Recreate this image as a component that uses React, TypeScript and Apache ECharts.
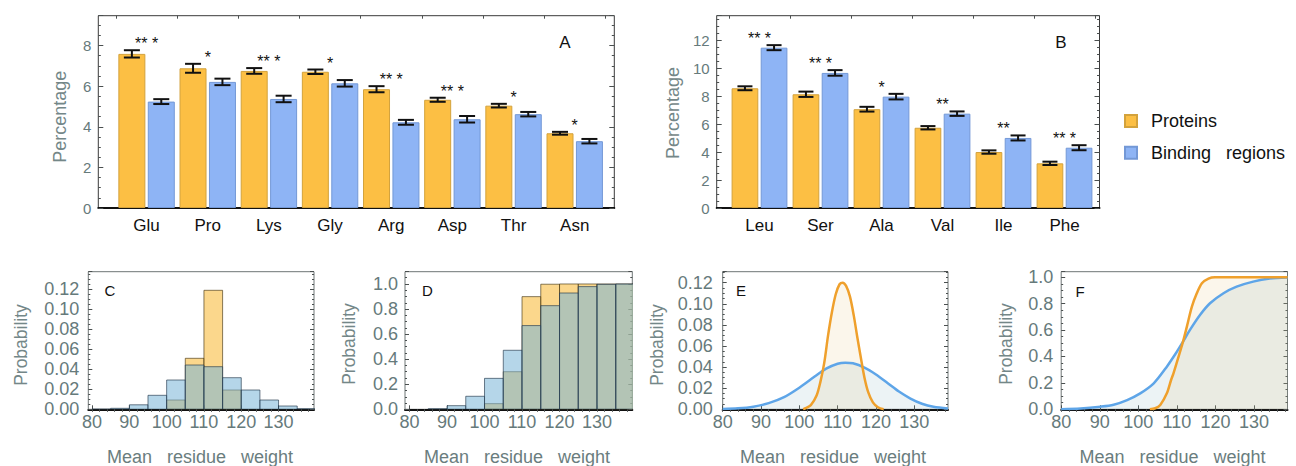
import React, { useEffect, useRef } from 'react';
import * as echarts from 'echarts';

// ---------- Panel A ----------
const aCategories = ['Glu', 'Pro', 'Lys', 'Gly', 'Arg', 'Asp', 'Thr', 'Asn'];
const aProteins = [7.59, 6.88, 6.75, 6.71, 5.85, 5.33, 5.04, 3.68];
const aProteinsErr = [0.18, 0.22, 0.14, 0.11, 0.15, 0.1, 0.09, 0.07];
const aBinding = [5.24, 6.21, 5.37, 6.14, 4.22, 4.37, 4.62, 3.29];
const aBindingErr = [0.12, 0.16, 0.16, 0.16, 0.12, 0.16, 0.11, 0.11];
const aStars = ['** *', '*', '** *', '*', '** *', '** *', '*', '*'];

// ---------- Panel B ----------
const bCategories = ['Leu', 'Ser', 'Ala', 'Val', 'Ile', 'Phe'];
const bProteins = [8.58, 8.15, 7.08, 5.75, 4.01, 3.2];
const bProteinsErr = [0.14, 0.19, 0.17, 0.12, 0.12, 0.12];
const bBinding = [11.49, 9.68, 7.98, 6.76, 5.02, 4.32];
const bBindingErr = [0.18, 0.2, 0.2, 0.16, 0.18, 0.18];
const bStars = ['** *', '** *', '*', '**', '**', '** *'];

// ---------- Panels C / D (histograms, bin edges) ----------
const binEdges = [80, 85, 90, 95, 100, 105, 110, 115, 120, 125, 130, 135, 140];
const cProteins = [0, 0, 0, 0, 0.0093, 0.051, 0.119, 0.0193, 0, 0, 0, 0];
const cBinding = [0.0002, 0.001, 0.0045, 0.014, 0.0293, 0.0443, 0.0426, 0.0316, 0.0193, 0.0093, 0.0033, 0.0006];
const dProteins = [0, 0, 0, 0, 0.045, 0.3, 0.899, 0.998, 1, 1, 1, 1];
const dBinding = [0, 0.005, 0.029, 0.104, 0.247, 0.471, 0.668, 0.827, 0.928, 0.979, 0.997, 1.0];

// ---------- Panel E (densities) ----------
const eProteinsX = [101, 101.5, 103, 104.5, 105.5, 106.5, 107.5, 108.5, 109.5, 110.5, 111.3, 112.2, 113.2, 114.2, 115.1, 116, 117, 118, 119.2, 120.5, 122];
const eProteinsY = [0, 0.0008, 0.004, 0.013, 0.026, 0.044, 0.07, 0.092, 0.109, 0.1185, 0.12, 0.117, 0.107, 0.089, 0.069, 0.05, 0.03, 0.016, 0.0065, 0.002, 0];
const eBindingX = [80, 84, 88, 92, 96, 100, 104, 107, 110, 112, 114, 117, 120, 123, 126, 129, 132, 135, 138.8];
const eBindingY = [0.0003, 0.0009, 0.0025, 0.0058, 0.0115, 0.0205, 0.031, 0.0385, 0.0432, 0.0442, 0.0436, 0.0395, 0.033, 0.025, 0.0168, 0.0102, 0.0053, 0.0024, 0.0008];

// ---------- Panel F (cumulative) ----------
const fProteinsX = [103, 104.4, 105.7, 107.4, 108.5, 109.1, 110.7, 111.6, 112.6, 113.9, 115.2, 116.5, 118.2, 119.9, 138.7];
const fProteinsY = [0, 0.008, 0.033, 0.121, 0.222, 0.27, 0.424, 0.512, 0.626, 0.777, 0.88, 0.955, 0.99, 1.0, 1.0];
const fBindingX = [80, 85, 90.2, 93.6, 97.1, 100.5, 104, 107.4, 110, 111.6, 113.4, 116, 118.6, 122.1, 125.5, 129.8, 134.1, 138.7];
const fBindingY = [0.001, 0.006, 0.02, 0.035, 0.07, 0.121, 0.197, 0.323, 0.436, 0.512, 0.601, 0.714, 0.803, 0.879, 0.929, 0.967, 0.99, 0.999];

const xTickLabels = [80, 90, 100, 110, 120, 130];
const xMinorTicks = [80, 82, 84, 86, 88, 90, 92, 94, 96, 98, 100, 102, 104, 106, 108, 110, 112, 114, 116, 118, 120, 122, 124, 126, 128, 130, 132, 134, 136, 138];

const FONT = '"Liberation Sans", Arial, Helvetica, sans-serif';
const GRAY = '#667a7b';
const TICK = '#4a4f4f';
const ORANGE = '#fcbf44';
const BLUE = '#8eb4f5';

function errItem(half: number, off: number) {
  return (_p: any, api: any) => {
    const i = api.value(0);
    const v = api.value(1);
    const e = api.value(2);
    const side = api.value(3);
    const cx = api.coord([i, v])[0] + side * off;
    const yt = api.coord([i, v + e])[1];
    const yb = api.coord([i, v - e])[1];
    const st = { stroke: '#111', lineWidth: 2 };
    return {
      type: 'group',
      children: [
        { type: 'line', shape: { x1: cx, y1: yt, x2: cx, y2: yb }, style: st },
        { type: 'line', shape: { x1: cx - half, y1: yt, x2: cx + half, y2: yt }, style: st },
        { type: 'line', shape: { x1: cx - half, y1: yb, x2: cx + half, y2: yb }, style: st },
      ],
    };
  };
}

function starItem(labels: string[]) {
  return (_p: any, api: any) => {
    const i = api.value(0);
    const top = api.value(1);
    const p = api.coord([i, top]);
    return {
      type: 'text',
      x: p[0],
      y: p[1] - 6.5,
      style: {
        text: labels[i],
        fill: '#111',
        font: '16px ' + FONT,
        align: 'center',
        verticalAlign: 'middle',
        textAlign: 'center',
        textVerticalAlign: 'middle',
      },
    };
  };
}

function histItem(fill: string, stroke: string) {
  return (_p: any, api: any) => {
    const x0 = api.value(0);
    const x1 = api.value(1);
    const v = api.value(2);
    const p0 = api.coord([x0, v]);
    const p1 = api.coord([x1, 0]);
    return {
      type: 'rect',
      shape: { x: p0[0], y: p0[1], width: p1[0] - p0[0], height: p1[1] - p0[1] },
      style: { fill, stroke, lineWidth: 1 },
    };
  };
}

function histData(vals: number[]) {
  const out: number[][] = [];
  vals.forEach((v, i) => {
    if (v > 0) out.push([binEdges[i], binEdges[i + 1], v]);
  });
  return out;
}

function errData(p: number[], pe: number[], b: number[], be: number[]) {
  const out: number[][] = [];
  p.forEach((v, i) => {
    out.push([i, v, pe[i], -1]);
    out.push([i, b[i], be[i], 1]);
  });
  return out;
}

function starData(p: number[], pe: number[], b: number[], be: number[]) {
  return p.map((v, i) => [i, Math.max(v + pe[i], b[i] + be[i])]);
}

function frameBottomX(gridIndex: number) {
  return {
    type: 'value', gridIndex, position: 'bottom', min: 0, max: 1,
    axisLabel: { show: false }, axisTick: { show: false }, splitLine: { show: false },
    axisLine: { show: true, onZero: false, lineStyle: { color: '#111', width: 2 } },
  };
}

function catX(gridIndex: number, data: string[], position: string) {
  const bottom = position === 'bottom';
  return {
    type: 'category', gridIndex, position, data,
    axisLine: { show: false },
    axisTick: bottom ? { show: false } : { show: true, inside: true, length: 3, lineStyle: { color: TICK } },
    axisLabel: bottom ? { show: true, fontSize: 17, color: '#111', margin: 9, fontFamily: FONT } : { show: false },
    splitLine: { show: false },
  };
}

function barY(gridIndex: number, max: number, position: string, labels: boolean) {
  return {
    type: 'value', gridIndex, position, min: 0, max, interval: 2,
    axisLine: { show: false },
    axisTick: { show: true, inside: true, length: 5, lineStyle: { color: TICK } },
    minorTick: { show: true, splitNumber: 4, length: 2.5, lineStyle: { color: TICK } },
    axisLabel: labels
      ? { show: true, fontSize: 15, color: GRAY, margin: 7, showMaxLabel: false, fontFamily: FONT }
      : { show: false },
    splitLine: { show: false },
  };
}

function hiddenY(gridIndex: number, max: number) {
  return { type: 'value', gridIndex, min: 0, max, show: false, splitLine: { show: false } };
}

function botX(gridIndex: number, min: number, max: number) {
  return {
    type: 'value', gridIndex, position: 'bottom', min, max,
    axisLine: { show: true, onZero: false, lineStyle: { color: '#111', width: 2 } },
    axisTick: { show: true, inside: true, length: 4, customValues: xTickLabels, lineStyle: { color: TICK } },
    axisLabel: { show: true, customValues: xTickLabels, fontSize: 18, color: GRAY, margin: 4, fontFamily: FONT },
    splitLine: { show: false },
  };
}

function topX(gridIndex: number, min: number, max: number) {
  return {
    type: 'value', gridIndex, position: 'top', min, max,
    axisLine: { show: false },
    axisTick: { show: true, inside: true, length: 2.5, customValues: xMinorTicks, lineStyle: { color: TICK } },
    axisLabel: { show: false },
    splitLine: { show: false },
  };
}

function probY(gridIndex: number, max: number, interval: number, digits: number, position: string, labels: boolean, margin: number) {
  return {
    type: 'value', gridIndex, position, min: 0, max, interval,
    axisLine: { show: false },
    axisTick: { show: true, inside: true, length: 4, lineStyle: { color: TICK } },
    minorTick: { show: true, splitNumber: 4, length: 2, lineStyle: { color: TICK } },
    axisLabel: labels
      ? { show: true, fontSize: 18, color: GRAY, margin, showMaxLabel: false, fontFamily: FONT,
          formatter: (v: number) => v.toFixed(digits) }
      : { show: false },
    splitLine: { show: false },
  };
}

function txt(text: string, x: number, y: number, size: number, fill: string, rotate = false) {
  return {
    type: 'text', x, y, rotation: rotate ? Math.PI / 2 : 0,
    style: {
      text, fill, font: size + 'px ' + FONT,
      textAlign: 'center', textVerticalAlign: 'middle', align: 'center', verticalAlign: 'middle',
    },
  };
}

function buildOption() {
  const frameTop = 15.7, frameH = 192.3;
  const bTop = 271.7, bH = 137.6;
  const aMax = 9.47, bMax = 13.78;
  const cMax = 0.1376, dMax = 1.098, eMax = 0.1304, fMax = 1.042;

  const grid = [
    { left: 98.3, top: frameTop, width: 516, height: frameH, show: true, borderColor: '#3a3a3a', borderWidth: 1 },
    { left: 116, top: frameTop, width: 489.3, height: frameH },
    { left: 716.7, top: frameTop, width: 382.8, height: frameH, show: true, borderColor: '#3a3a3a', borderWidth: 1 },
    { left: 729, top: frameTop, width: 366, height: frameH },
    { left: 88.3, top: bTop, width: 225.7, height: bH, show: true, borderColor: '#6e7676', borderWidth: 1 },
    { left: 405, top: bTop, width: 227.3, height: bH, show: true, borderColor: '#6e7676', borderWidth: 1 },
    { left: 722.7, top: bTop, width: 225.3, height: bH, show: true, borderColor: '#6e7676', borderWidth: 1 },
    { left: 1061.2, top: bTop, width: 226.3, height: bH, show: true, borderColor: '#6e7676', borderWidth: 1 },
  ];

  const xAxis = [
    frameBottomX(0), // 0
    catX(1, aCategories, 'bottom'), // 1
    catX(1, aCategories, 'top'), // 2
    frameBottomX(2), // 3
    catX(3, bCategories, 'bottom'), // 4
    catX(3, bCategories, 'top'), // 5
    botX(4, 79, 139.5), // 6
    topX(4, 79, 139.5), // 7
    botX(5, 78.8, 139.4), // 8
    topX(5, 78.8, 139.4), // 9
    botX(6, 80, 138.8), // 10
    topX(6, 80, 138.8), // 11
    botX(7, 80, 138.7), // 12
    topX(7, 80, 138.7), // 13
  ];

  const yAxis = [
    barY(0, aMax, 'left', true), // 0
    barY(0, aMax, 'right', false), // 1
    hiddenY(1, aMax), // 2
    barY(2, bMax, 'left', true), // 3
    barY(2, bMax, 'right', false), // 4
    hiddenY(3, bMax), // 5
    probY(4, cMax, 0.02, 2, 'left', true, 9), // 6
    probY(4, cMax, 0.02, 2, 'right', false, 0), // 7
    probY(5, dMax, 0.2, 1, 'left', true, 7), // 8
    probY(5, dMax, 0.2, 1, 'right', false, 0), // 9
    probY(6, eMax, 0.02, 2, 'left', true, 10), // 10
    probY(6, eMax, 0.02, 2, 'right', false, 0), // 11
    probY(7, fMax, 0.2, 1, 'left', true, 8), // 12
    probY(7, fMax, 0.2, 1, 'right', false, 0), // 13
  ];

  const orangeBar = { color: ORANGE, borderColor: '#d3a23c', borderWidth: 1 };
  const blueBar = { color: BLUE, borderColor: '#7398d6', borderWidth: 1 };

  const histOrangeFill = 'rgba(247,182,45,0.55)';
  const histOrangeStroke = 'rgba(70,55,20,0.65)';
  const histBlueFill = 'rgba(120,180,215,0.55)';
  const histBlueStroke = 'rgba(35,55,75,0.65)';

  const lineOrange = '#efa02c';
  const lineBlue = '#5ea5e8';

  const series: any[] = [
    // Panel A
    { type: 'bar', name: 'Proteins', xAxisIndex: 1, yAxisIndex: 2, data: aProteins, barWidth: 27, barGap: '9%', itemStyle: orangeBar },
    { type: 'bar', name: 'Binding   regions', xAxisIndex: 1, yAxisIndex: 2, data: aBinding, barWidth: 27, barGap: '9%', itemStyle: blueBar },
    { type: 'custom', xAxisIndex: 1, yAxisIndex: 2, data: errData(aProteins, aProteinsErr, aBinding, aBindingErr), renderItem: errItem(8, 14.7), z: 5 },
    { type: 'custom', xAxisIndex: 1, yAxisIndex: 2, data: starData(aProteins, aProteinsErr, aBinding, aBindingErr), renderItem: starItem(aStars), z: 5 },
    // Panel B
    { type: 'bar', name: 'Proteins', xAxisIndex: 4, yAxisIndex: 5, data: bProteins, barWidth: 26.7, barGap: '9%', itemStyle: orangeBar },
    { type: 'bar', name: 'Binding   regions', xAxisIndex: 4, yAxisIndex: 5, data: bBinding, barWidth: 26.7, barGap: '9%', itemStyle: blueBar },
    { type: 'custom', xAxisIndex: 4, yAxisIndex: 5, data: errData(bProteins, bProteinsErr, bBinding, bBindingErr), renderItem: errItem(7.5, 14.55), z: 5 },
    { type: 'custom', xAxisIndex: 4, yAxisIndex: 5, data: starData(bProteins, bProteinsErr, bBinding, bBindingErr), renderItem: starItem(bStars), z: 5 },
    // Panel C
    { type: 'custom', xAxisIndex: 6, yAxisIndex: 6, clip: true, data: histData(cProteins), renderItem: histItem(histOrangeFill, histOrangeStroke) },
    { type: 'custom', xAxisIndex: 6, yAxisIndex: 6, clip: true, data: histData(cBinding), renderItem: histItem(histBlueFill, histBlueStroke) },
    // Panel D
    { type: 'custom', xAxisIndex: 8, yAxisIndex: 8, clip: true, data: histData(dProteins), renderItem: histItem(histOrangeFill, histOrangeStroke) },
    { type: 'custom', xAxisIndex: 8, yAxisIndex: 8, clip: true, data: histData(dBinding), renderItem: histItem(histBlueFill, histBlueStroke) },
    // Panel E
    { type: 'line', xAxisIndex: 10, yAxisIndex: 10, data: eBindingX.map((x, i) => [x, eBindingY[i]]), symbol: 'none', smooth: 0.3,
      lineStyle: { color: lineBlue, width: 2.5 }, itemStyle: { color: lineBlue }, areaStyle: { color: 'rgba(130,178,190,0.22)' } },
    { type: 'line', xAxisIndex: 10, yAxisIndex: 10, data: eProteinsX.map((x, i) => [x, eProteinsY[i]]), symbol: 'none', smooth: 0.3,
      lineStyle: { color: lineOrange, width: 2.5 }, itemStyle: { color: lineOrange }, areaStyle: { color: 'rgba(228,190,110,0.2)' } },
    // Panel F
    { type: 'line', xAxisIndex: 12, yAxisIndex: 12, data: fBindingX.map((x, i) => [x, fBindingY[i]]), symbol: 'none', smooth: 0.3,
      lineStyle: { color: lineBlue, width: 2.5 }, itemStyle: { color: lineBlue }, areaStyle: { color: 'rgba(130,178,190,0.22)' } },
    { type: 'line', xAxisIndex: 12, yAxisIndex: 12, data: fProteinsX.map((x, i) => [x, fProteinsY[i]]), symbol: 'none', smooth: 0.3,
      lineStyle: { color: lineOrange, width: 2.5 }, itemStyle: { color: lineOrange }, areaStyle: { color: 'rgba(228,190,110,0.2)' } },
  ];

  const graphic = [
    txt('A', 565, 42.7, 17, '#111'),
    txt('B', 1061, 42.7, 17, '#111'),
    txt('Percentage', 59.5, 116.7, 18, '#748788', true),
    txt('Percentage', 673, 113, 18, '#748788', true),
    txt('C', 110, 290, 15, '#111'),
    txt('D', 427.5, 290, 15, '#111'),
    txt('E', 741, 290, 15, '#111'),
    txt('F', 1080, 291.7, 15, '#111'),
    txt('Probability', 21, 345, 17.5, '#748788', true),
    txt('Probability', 349, 344, 17.5, '#748788', true),
    txt('Probability', 657, 345, 17.5, '#748788', true),
    txt('Probability', 1006, 344, 17.5, '#748788', true),
    txt('Mean   residue   weight', 200, 456.5, 18, '#6a7d7e'),
    txt('Mean   residue   weight', 517, 456.5, 18, '#6a7d7e'),
    txt('Mean   residue   weight', 833, 456.5, 18, '#6a7d7e'),
    txt('Mean   residue   weight', 1172.5, 456.5, 18, '#6a7d7e'),
  ];

  return {
    animation: false,
    backgroundColor: '#ffffff',
    textStyle: { fontFamily: FONT },
    legend: {
      orient: 'vertical', left: 1124, top: 111, padding: 0,
      itemWidth: 12, itemHeight: 12, itemGap: 11.7, icon: 'rect',
      data: ['Proteins', 'Binding   regions'],
      selectedMode: false,
      textStyle: { fontSize: 18, color: '#111', fontFamily: FONT, lineHeight: 20, padding: [0, 0, 0, 9] },
    },
    grid, xAxis, yAxis, series, graphic,
  };
}

export default function App() {
  const ref = useRef<HTMLDivElement>(null);
  useEffect(() => {
    const chart = echarts.init(ref.current as HTMLDivElement, null, { renderer: 'svg' });
    chart.setOption(buildOption() as any);
    return () => chart.dispose();
  }, []);
  return <div ref={ref} style={{ position: 'fixed', left: 0, top: 0, width: 1296, height: 466 }} />;
}
